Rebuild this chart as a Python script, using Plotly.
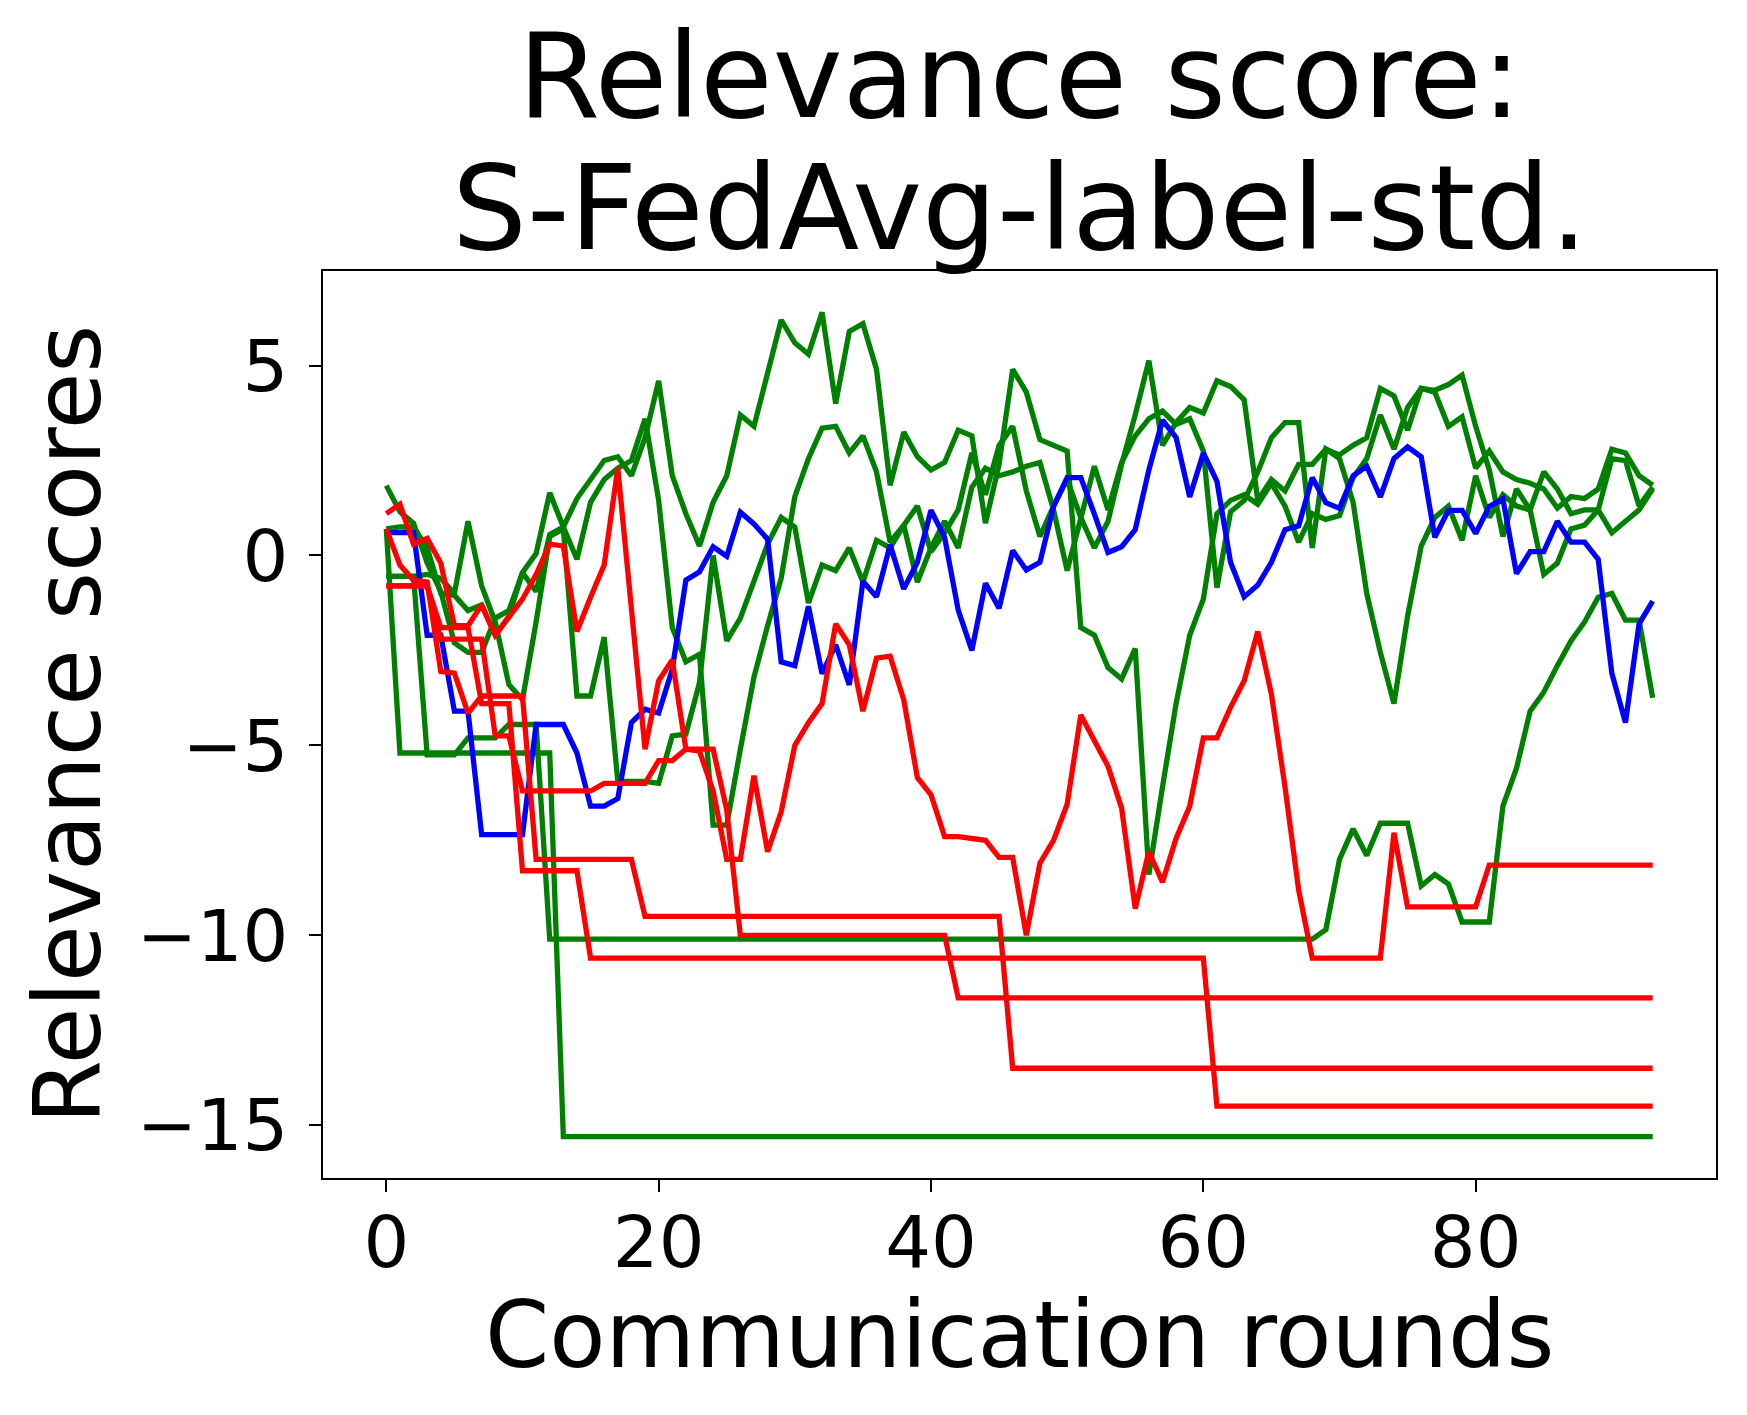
import plotly.graph_objects as go

rounds = list(range(94))

# ---- green clients ----
g_low = [0.7] + [-5.2] * 12 + [-15.3] * 81
g_rise = ([-0.55] * 3 + [-5.25] * 3 + [-4.8] * 3 + [-4.45] * 3 + [-10.1] * 57 +
          [-9.85, -8.0, -7.2, -7.9, -7.05, -7.05, -7.05, -8.7, -8.4, -8.65, -9.65, -9.65, -9.65,
           -6.6, -5.6, -4.1, -3.6, -2.9, -2.25, -1.75, -1.1, -1.0, -1.7, -1.7, -3.75])
g_u1 = [1.84, 1.15, 0.85, -0.2, -0.95, -2.3, -2.55, -2.55, -1.65, -1.45, -0.45, 0.05, 1.65, 0.75, 1.5, 2.0,
        2.5, 2.6, 2.1, 3.1, 4.6, 2.1, 1.1, 0.25, 1.4, 2.1, 3.7, 3.4, 4.8, 6.2, 5.6, 5.3, 6.4, 4.0, 5.9, 6.1, 4.9,
        1.85, 3.25, 2.6, 2.25, 2.45, 3.3, 3.15, 0.85, 2.4, 4.9, 4.3, 3.05, 2.9, 2.75,
        -1.9, -2.1, -2.95, -3.25, -2.45, -8.4, -6.1, -3.9, -2.1, -1.15, 1.1, 1.45, 1.6, 1.35, 1.9,
        1.3, 0.35, 1.1, 0.95, 1.05, 2.05, 2.55, 3.7, 2.8, 3.9, 4.4, 4.3, 3.4, 3.65, 2.3, 2.75,
        2.2, 2.0, 1.9, 1.75, 1.25, 1.55, 1.5, 1.75, 2.8, 2.7, 2.1, 1.85]
g_u2 = [0.7, 0.75, 0.75, 0.2, -1.0, -1.05, -1.45, -1.3, -2.1, -1.6, -0.45, -0.95, 0.55, 0.75, -0.1, 1.4, 2.0,
        2.3, 2.5, 3.6, 1.45,
        -1.9, -2.8, -2.6, -7.1, -7.1, -5.1, -3.2, -1.85, -0.6, 1.55, 2.55, 3.35, 3.4, 2.7, 3.15, 2.2,
        0.35, 0.8, -0.7, 0.2, 0.9, 0.2, 1.8, 2.3, 2.1, 2.2, 2.35, 2.45, 1.2, -0.4,
        1.0, 2.35, 1.2, 2.45, 3.15, 3.6, 3.8, 3.45, 3.6, 2.75, -0.85, 1.15, 1.45, 2.2, 3.1,
        3.5, 3.5, 0.2, 2.8, 2.55, 1.4, -1.0, -2.55, -3.9, -1.6, 0.25, 1.0, 1.3, 0.4, 2.1, 1.0,
        1.6, 1.3, 1.2, -0.5, -0.2, 0.7, 0.8, 1.2, 2.55, 2.5, 1.3, 1.8]
g_u3 = [-0.55, -0.55, -0.55, -0.5, -0.6, -1.0, 0.9, -0.8, -1.75, -3.4, -3.8, -1.75, 0.5, 0.7,
        -3.7, -3.7, -2.15, -5.95, -5.95, -5.95, -6.0, -4.75, -4.7, -3.35,
        0.0, -2.25, -1.65, -0.65, 0.3, 1.0, 0.75, -1.25, -0.25, -0.4, 0.2, -0.7, 0.4, 0.2, 0.8,
        1.3, 0.1, 0.6, 1.2, 2.7, 1.6, 2.9, 3.4, 1.7, 0.5, 1.3, 2.0, 1.0, 0.2, 0.9, 2.4, 3.7,
        5.13, 2.9, 3.5, 3.9, 3.75, 4.6, 4.45, 4.1, 1.45, 2.0, 1.7, 2.4, 2.4,
        2.8, 2.65, 2.9, 3.1, 4.4, 4.2, 3.3, 4.4, 4.35, 4.5, 4.75, 3.4, 2.25,
        0.5, 1.75, 1.2, 2.2, 1.75, 1.1, 1.2, 1.2, 0.6, 0.9, 1.2, 1.75]

# ---- blue client ----
blue = [0.6, 0.6, 0.6, -2.1, -2.1, -4.1, -4.1, -7.35, -7.35, -7.35, -7.35, -4.45, -4.45, -4.45, -5.2, -6.6,
        -6.6, -6.4, -4.4, -4.05, -4.15,
        -3.0, -0.65, -0.43, 0.23, -0.02, 1.14, 0.83, 0.43, -2.8, -2.9, -1.34, -3.11, -2.35, -3.41, -0.68,
        -1.09, 0.28, -0.88, -0.18, 1.19,
        0.48, -1.44, -2.5, -0.73, -1.39, 0.13, -0.38, -0.18, 1.29, 2.05, 2.05, 1.09, 0.08, 0.23, 0.68,
        2.25, 3.56, 3.11, 1.54, 2.7,
        1.95, -0.18, -1.09, -0.78, -0.18, 0.68, 0.78, 2.05, 1.39, 1.24, 2.1, 2.35, 1.54, 2.55, 2.86, 2.6,
        0.48, 1.19, 1.19, 0.58, 1.29,
        1.49, -0.48, 0.1, 0.1, 0.9, 0.35, 0.35, -0.1, -3.1, -4.4, -1.8, -1.2]

# ---- red clients ----
red_a = ([1.1, 1.35, 0.3, 0.45, -0.2, -1.85, -1.85, -1.3, -2.1, -1.65, -1.15, -0.5, 0.3, 0.25, -2.0, -1.1,
          -0.25, 2.3, -1.4, -5.1, -3.3,
          -2.75, -5.1, -5.15, -6.2, -8.0, -8.0, -5.8, -7.8, -6.75, -5.0, -4.4, -3.9, -1.8, -2.35, -4.1,
          -2.7, -2.65, -3.8, -5.85, -6.3,
          -7.4, -7.4, -7.45, -7.5, -7.95, -7.95, -10.0, -8.1, -7.5, -6.55, -4.2, -4.85, -5.55, -6.65,
          -9.3, -7.8, -8.6, -7.45, -6.6, -4.8,
          -4.8, -4.0, -3.3, -2.0, -3.65, -6.1, -8.8, -10.6, -10.6, -10.6, -10.6, -10.6, -10.6, -7.3,
          -9.25, -9.25, -9.25, -9.25, -9.25, -9.25] + [-8.15] * 13)
red_b = ([0.7, -0.25, -0.65, -0.7, -3.05, -3.1, -4.15, -3.7, -3.7, -3.7, -3.7] + [-8.0] * 8 +
         [-9.5] * 27 + [-13.5] * 48)
red_c = ([-0.8] * 4 + [-2.2] * 4 + [-4.75] * 2 + [-6.2] * 6 + [-6.0] * 4 + [-5.4] * 2 + [-5.1] * 3 +
         [-6.7] + [-10.0] * 16 + [-11.65] * 52)
red_d = [-0.8] * 4 + [-1.9] * 3 + [-3.9] * 3 + [-8.3] * 5 + [-10.6] * 46 + [-14.5] * 33

x_ticks = [0, 20, 40, 60, 80]
y_ticks = [5, 0, -5, -10, -15]
y_tick_text = ["5", "0", "\u22125", "\u221210", "\u221215"]

series = [
    (g_low, "green"), (g_rise, "green"), (g_u1, "green"), (g_u2, "green"), (g_u3, "green"),
    (blue, "blue"),
    (red_a, "red"), (red_b, "red"), (red_c, "red"), (red_d, "red"),
]

fig = go.Figure()
for vals, col in series:
    fig.add_trace(go.Scatter(x=rounds, y=vals, mode="lines",
                             line=dict(color=col, width=5.3), showlegend=False,
                             hoverinfo="skip"))

FONT = "DejaVu Sans"
axis_common = dict(showgrid=False, zeroline=False, showline=True, mirror=True,
                   linecolor="black", linewidth=2.4, ticks="outside", ticklen=12,
                   tickwidth=2.4, tickcolor="black",
                   tickfont=dict(family=FONT, size=72, color="black"))

fig.update_layout(
    width=1731, height=1399,
    margin=dict(l=315, r=23, t=263, b=229),
    paper_bgcolor="white", plot_bgcolor="white",
    font=dict(family=FONT, color="black"),
    xaxis=dict(range=[-4.65, 97.65], tickvals=x_ticks, ticklabelstandoff=-12, **axis_common),
    yaxis=dict(range=[-16.39, 7.49], tickvals=y_ticks, ticktext=y_tick_text,
               ticklabelstandoff=6, **axis_common),
    annotations=[
        dict(text="Relevance score:", x=0.5, y=1.2145, xref="paper", yref="paper",
             xanchor="center", yanchor="middle", showarrow=False,
             font=dict(family=FONT, size=118, color="black")),
        dict(text="S-FedAvg-label-std.", x=0.5, y=1.07, xref="paper", yref="paper",
             xanchor="center", yanchor="middle", showarrow=False,
             font=dict(family=FONT, size=118, color="black")),
        dict(text="Communication rounds", x=0.5, y=-0.1742, xref="paper", yref="paper",
             xanchor="center", yanchor="middle", showarrow=False,
             font=dict(family=FONT, size=92, color="black")),
        dict(text="Relevance scores", x=-0.1827, y=0.5, xref="paper", yref="paper",
             xanchor="center", yanchor="middle", showarrow=False, textangle=-90,
             font=dict(family=FONT, size=92, color="black")),
    ],
)

fig.write_html("out.html")
